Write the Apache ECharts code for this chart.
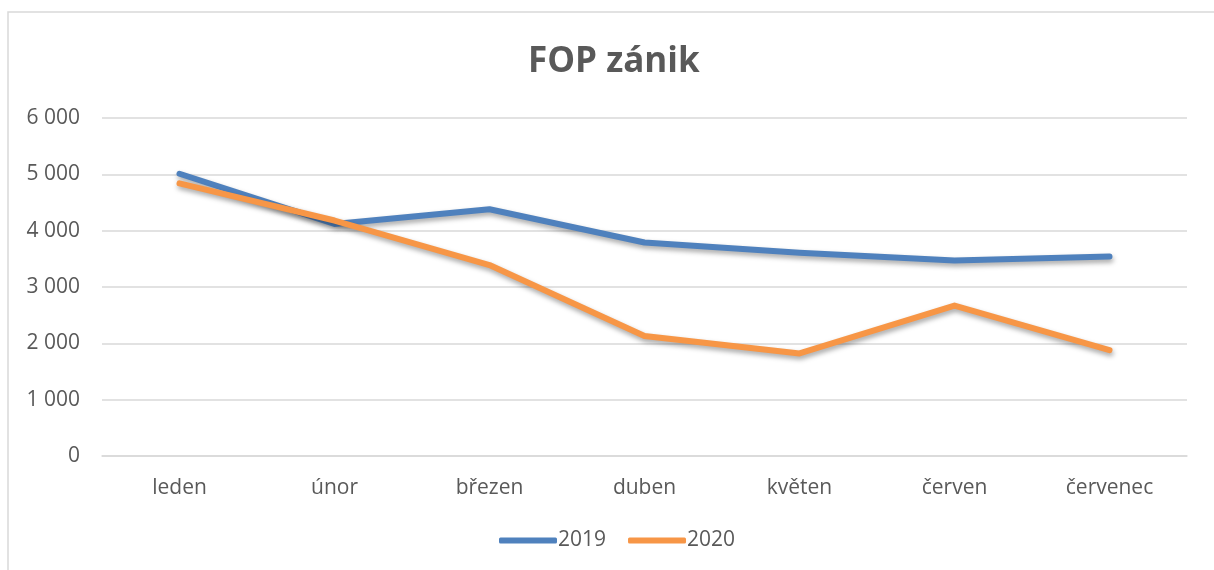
<!DOCTYPE html>
<html>
<head>
<meta charset="utf-8">
<script src="https://cdn.jsdelivr.net/npm/echarts@6/dist/echarts.min.js"></script>
<style>
  html, body { margin: 0; padding: 0; background: #fff; }
  #chart { width: 1214px; height: 570px; }
</style>
</head>
<body>
<div id="chart"></div>
<script>
// data
var months = ['leden', 'únor', 'březen', 'duben', 'květen', 'červen', 'červenec'];
var values2019 = [5010, 4120, 4380, 3790, 3610, 3470, 3540];
var values2020 = [4840, 4180, 3390, 2130, 1820, 2670, 1880];

var textColor = '#595959';
var font = '"Open Sans", "Liberation Sans", sans-serif';

var myChart = echarts.init(document.getElementById('chart'));

function lineSeries(name, data, color) {
    return {
        name: name,
        type: 'line',
        data: data,
        symbol: 'none',
        lineStyle: {
            width: 6,
            color: color,
            cap: 'round',
            join: 'round',
            shadowColor: 'rgba(0,0,0,0.35)',
            shadowBlur: 5,
            shadowOffsetX: 1,
            shadowOffsetY: 3
        },
        itemStyle: { color: color },
        emphasis: { disabled: true }
    };
}

var option = {
    animation: false,
    backgroundColor: '#fff',
    textStyle: { fontFamily: font },
    graphic: [{
        type: 'rect',
        shape: { x: 8, y: 12, width: 1220, height: 580 },
        style: { fill: 'none', stroke: '#d9d9d9', lineWidth: 1.5 },
        silent: true
    }],
    title: {
        text: 'FOP zánik',
        left: 523,
        top: 40,
        textStyle: { fontFamily: font, fontSize: 35, fontWeight: 'bold', color: textColor }
    },
    legend: {
        bottom: 14,
        left: 494,
        itemWidth: 58,
        itemHeight: 6,
        itemGap: 22,
        icon: 'roundRect',
        textStyle: { fontFamily: font, fontSize: 21, color: textColor, padding: [0, 0, 0, -4] },
        data: ['2019', '2020']
    },
    grid: { left: 102, right: 27, top: 118, bottom: 114, containLabel: false },
    xAxis: {
        type: 'category',
        data: months,
        boundaryGap: true,
        axisLine: { show: true, lineStyle: { color: '#d9d9d9', width: 1.5 } },
        axisTick: { show: false },
        axisLabel: { color: textColor, fontSize: 21, margin: 22, fontFamily: font }
    },
    yAxis: {
        type: 'value',
        min: 0,
        max: 6000,
        interval: 1000,
        axisLine: { show: false },
        axisTick: { show: false },
        splitLine: { lineStyle: { color: '#d9d9d9', width: 1.5 } },
        axisLabel: {
            color: textColor,
            fontSize: 21,
            margin: 22,
            fontFamily: font,
            formatter: function (v) {
                return String(v).replace(/\B(?=(\d{3})+(?!\d))/g, ' ');
            }
        }
    },
    series: [
        lineSeries('2019', values2019, '#4f81bd'),
        lineSeries('2020', values2020, '#f79646')
    ]
};

myChart.setOption(option);
</script>
</body>
</html>
